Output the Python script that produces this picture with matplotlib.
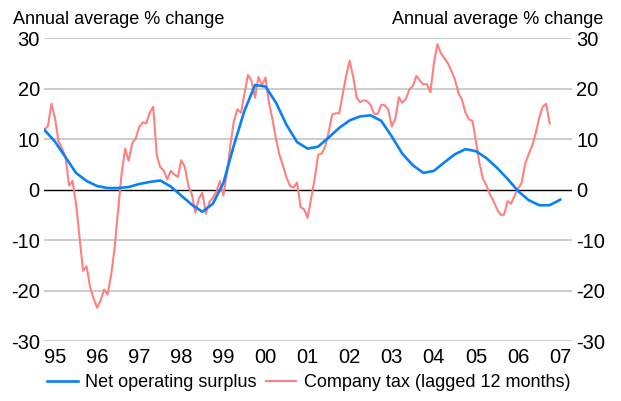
import numpy as np
import matplotlib.pyplot as plt

plt.rcParams['font.family'] = ['Liberation Sans', 'DejaVu Sans']
plt.rcParams['axes.unicode_minus'] = False

# Net operating surplus, quarterly from Mar 1995 (annual average % change)
nos_values = [11.8, 9.5, 6.4, 3.3, 1.7, 0.7, 0.3, 0.3, 0.5, 1.1,
              1.5, 1.8, 0.6, -1.2, -3.0, -4.4, -2.8, 1.3, 8.8, 15.6,
              20.7, 20.4, 17.2, 12.8, 9.4, 8.1, 8.5, 10.3, 12.2, 13.7,
              14.5, 14.7, 13.6, 10.5, 7.1, 4.8, 3.3, 3.7, 5.4, 7.0,
              8.0, 7.6, 6.2, 4.3, 2.1, -0.3, -2.1, -3.1, -3.1, -2.0]

# Company tax (lagged 12 months), monthly from Mar 1995
tax_values = [11.8, 12.6, 17.0, 14.2, 9.6, 8.2, 6.5, 0.8, 1.7, -2.8,
              -9.5, -16.1, -15.2, -19.3, -21.6, -23.4, -22.0, -19.8, -20.8, -17.0,
              -11.5, -4.0, 3.2, 8.1, 5.7, 9.2, 10.1, 12.4, 13.3, 13.1,
              15.2, 16.4, 6.9, 4.4, 3.8, 2.0, 3.7, 3.0, 2.5, 5.8,
              4.5, 0.8, -0.9, -4.6, -1.8, -0.6, -4.8, -2.5, -1.6, -0.4,
              1.7, -1.2, 3.2, 8.8, 13.6, 15.9, 15.2, 19.0, 22.7, 21.6,
              18.2, 22.3, 20.7, 22.2, 17.2, 13.9, 9.9, 6.8, 4.7, 2.4,
              0.7, 0.4, 1.4, -3.5, -3.9, -5.6, -1.8, 2.0, 6.9, 7.1,
              8.5, 11.4, 14.8, 15.1, 15.1, 18.8, 22.6, 25.5, 22.3, 18.2,
              17.3, 17.7, 17.5, 16.7, 15.0, 15.0, 16.8, 16.7, 15.8, 12.5,
              14.0, 18.3, 17.2, 17.9, 19.8, 20.5, 22.5, 21.6, 20.8, 20.9,
              19.3, 25.0, 28.8, 27.0, 26.0, 25.0, 23.5, 21.8, 19.1, 17.8,
              15.2, 13.9, 13.6, 9.4, 5.2, 2.1, 0.8, -1.0, -2.3, -3.9,
              -5.0, -5.0, -2.3, -2.8, -1.2, 0.2, 1.3, 5.1, 7.0, 8.7,
              11.1, 14.2, 16.4, 17.0, 13.1]

nos_dates = 1995.25 + np.arange(len(nos_values)) / 4
tax_dates = 1995.25 + np.arange(len(tax_values)) / 12

year_labels = ['95', '96', '97', '98', '99', '00', '01',
               '02', '03', '04', '05', '06', '07']
y_ticks = [-30, -20, -10, 0, 10, 20, 30]

fig = plt.figure(figsize=(6.21, 4.01), dpi=100)
ax = fig.add_axes([0.0709, 0.1496, 0.8502, 0.7554])

for y in y_ticks:
    if y == 0:
        ax.axhline(y, color='black', lw=1.0, zorder=1)
    else:
        ax.axhline(y, color='#c8c8c8', lw=1.3, zorder=0)

ax.plot(nos_dates, nos_values, color='#0a80f5', lw=1.9,
        label='Net operating surplus', zorder=3)
ax.plot(tax_dates, tax_values, color='#ff8080', lw=1.5,
        label='Company tax (lagged 12 months)', zorder=2)

ax.set_xlim(1995.24, 2007.78)
ax.set_ylim(-30, 30)
ax.set_xticks(1995.5 + np.arange(len(year_labels)))
ax.set_xticklabels(year_labels)
ax.set_yticks(y_ticks)
ax.tick_params(axis='both', labelsize=14.5, length=0)
ax.tick_params(axis='y', labelleft=True, labelright=True, pad=3)
ax.tick_params(axis='x', pad=5)
for s in ax.spines.values():
    s.set_visible(False)

fig.text(0.021, 0.94, 'Annual average % change', fontsize=13, ha='left', va='baseline')
fig.text(0.971, 0.94, 'Annual average % change', fontsize=13, ha='right', va='baseline')

fig.legend(loc='center', bbox_to_anchor=(0.497, 0.045), ncol=2, frameon=False,
           fontsize=13, handlelength=1.7, handletextpad=0.4, columnspacing=0.5,
           borderpad=0, borderaxespad=0)

fig.savefig('out.png', dpi=100)
